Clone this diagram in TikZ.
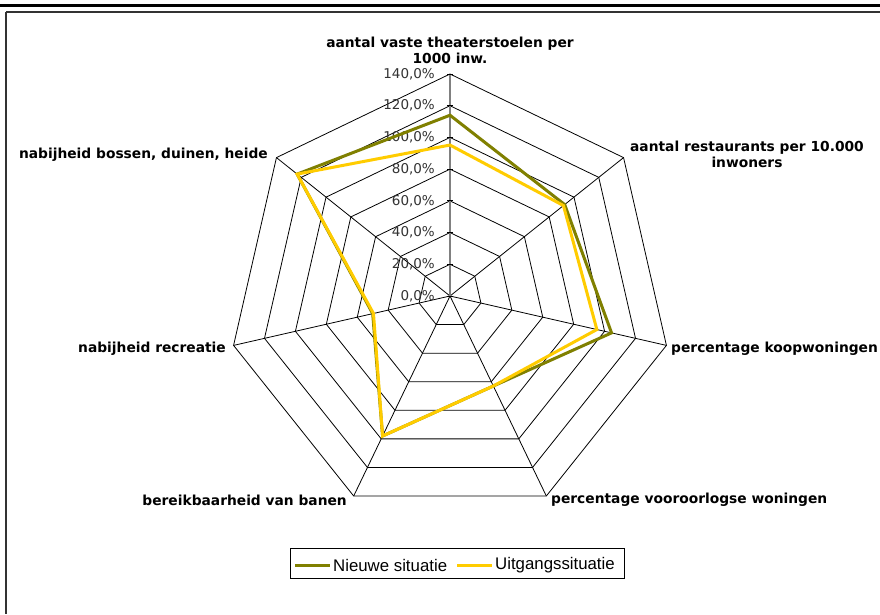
\documentclass[tikz,border=0pt]{standalone}
\usepackage{fontspec}
\setmainfont{Liberation Sans}
\newfontfamily\vfont{DejaVu Sans}
\definecolor{olivegreen}{HTML}{808000}
\definecolor{goldyellow}{HTML}{FFCC00}
\tikzset{
  grid/.style={black, line width=0.8pt},
  valaxis/.style={black!50, line width=1.6pt},
  series/.style={line width=3pt, line join=miter},
  catlabel/.style={font=\vfont\bfseries\fontsize{13.8}{16}\selectfont, inner sep=0pt},
  ticklabel/.style={font=\vfont\fontsize{13.5}{15}\selectfont, text=black!80, inner sep=0pt, anchor=east},
  legtext/.style={font=\fontsize{16.8}{19}\selectfont, inner sep=0pt, anchor=west}
}
\begin{document}
\begin{tikzpicture}[x=1pt,y=-1pt]
\useasboundingbox (0,0) rectangle (880,614);
\fill[white] (0,0) rectangle (880,614);
% outer frame
\draw[line width=3pt] (0,5) -- (880,5);
\draw[line width=1.6pt, black!80] (6,12) -- (880,12);
\draw[line width=2pt, black!80] (6,12) -- (6,614);

% radar grid, 7 axes, rings every 20%
\begin{scope}[shift={(450,296)}, y=1pt]
  \foreach \r in {1,...,7}
    \draw[grid] (90:\r*31.714) -- (38.571:\r*31.714) -- (-12.857:\r*31.714)
      -- (-64.286:\r*31.714) -- (-115.714:\r*31.714) -- (-167.143:\r*31.714)
      -- (141.429:\r*31.714) -- cycle;
  \foreach \a in {38.571,-12.857,-64.286,-115.714,-167.143,141.429}
    \draw[grid] (0,0) -- (\a:222);
  \draw[valaxis] (0,0) -- (0,222);
  \foreach \r in {0,...,7}
    \draw[black, line width=0.8pt] (-3,\r*31.714) -- (3,\r*31.714);
  \foreach \r/\t in {0/0,1/20,2/40,3/60,4/80,5/100,6/120,7/140}
    \node[ticklabel] (tick\r) at (-15,\r*31.714) {\t,0\%};

  % data series (percentages -> 1.5857 per %)
  \draw[series, olivegreen]
    (90:114*1.5857) -- (38.571:92.5*1.5857) -- (-12.857:104.5*1.5857)
    -- (-64.286:63*1.5857) -- (-115.714:98*1.5857) -- (-167.143:50*1.5857)
    -- (141.429:123.3*1.5857) -- cycle;
  \draw[series, goldyellow]
    (90:95.2*1.5857) -- (38.571:91.5*1.5857) -- (-12.857:95*1.5857)
    -- (-64.286:63*1.5857) -- (-115.714:98*1.5857) -- (-167.143:49.5*1.5857)
    -- (141.429:123.3*1.5857) -- cycle;
\end{scope}

% category labels
\node[catlabel, align=center] (cat1) at (450,50) {aantal vaste theaterstoelen per\\1000 inw.};
\node[catlabel, align=center] (cat2) at (747,154) {aantal restaurants per 10.000\\inwoners};
\node[catlabel, anchor=west] (cat3) at (671,349) {percentage koopwoningen};
\node[catlabel, anchor=west] (cat4) at (551,500) {percentage vooroorlogse woningen};
\node[catlabel, anchor=east] (cat5) at (347,500) {bereikbaarheid van banen};
\node[catlabel, anchor=east] (cat6) at (226,349) {nabijheid recreatie};
\node[catlabel, anchor=east] (cat7) at (268,155) {nabijheid bossen, duinen, heide};

% legend
\draw[black, line width=0.8pt] (290,548) rectangle (624,578);
\draw[series, olivegreen] (295,565) -- (330,565);
\node[legtext] (leg1) at (333,565) {Nieuwe situatie};
\draw[series, goldyellow] (457,565) -- (492,565);
\node[legtext] (leg2) at (495,565) {Uitgangssituatie};
\end{tikzpicture}
\end{document}
